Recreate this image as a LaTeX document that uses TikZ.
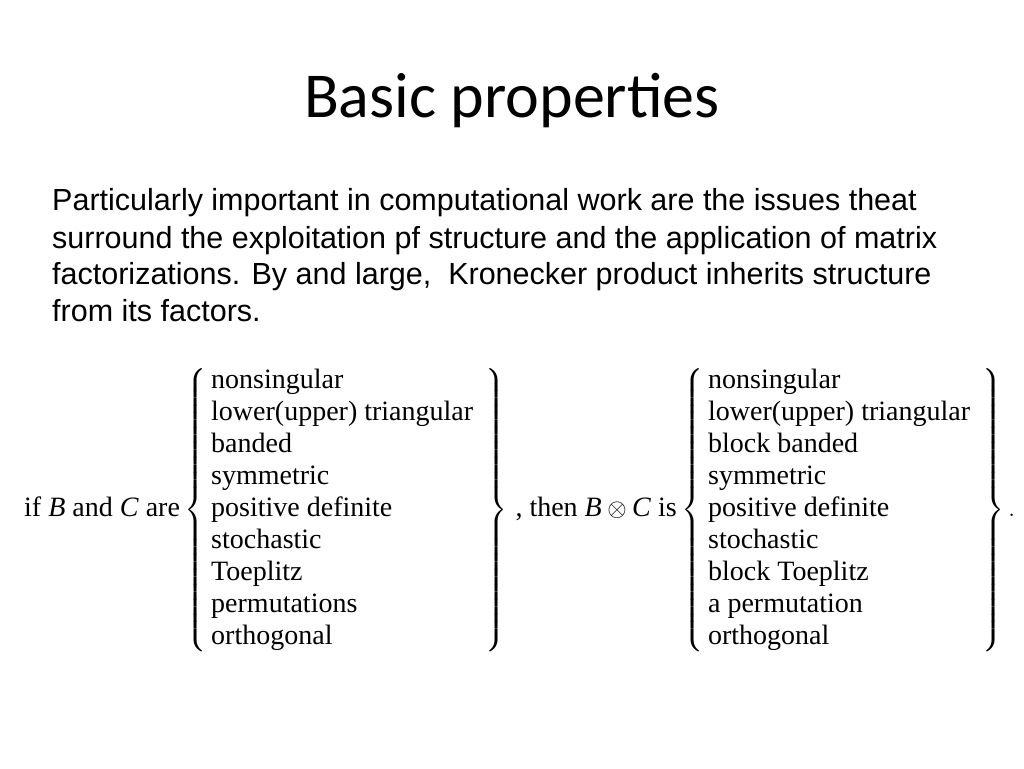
\documentclass[tikz,border=0pt]{standalone}
\usepackage{amsmath}
\usepackage{fontspec}
\setmainfont{Liberation Serif}
\newfontfamily\titlefont{Carlito}
\newfontfamily\bodyfont{Liberation Sans}
\begin{document}
\begin{tikzpicture}[x=1pt,y=-1pt,
  bodyline/.style={anchor=base west,inner sep=0pt,font=\bodyfont\fontsize{30.5}{32}\selectfont}]
\useasboundingbox (0,0) rectangle (1024,768);
\node[anchor=base,inner sep=0pt,font=\titlefont\fontsize{64}{66}\selectfont] (title) at (512,117) {Basic properties};
\node[bodyline] (l1) at (52,210) {Particularly important in computational work are the issues theat};
\node[bodyline] (l2) at (52,248) {surround the exploitation pf structure and the application of matrix};
\node[bodyline] (l3) at (52,284) {factorizations. By and large,\ \ Kronecker product inherits structure};
\node[bodyline] (l4) at (52,321) {from its factors.};
\node[anchor=west,inner sep=0pt,font=\fontsize{28}{32}\selectfont] (formula) at (24,510) {%
\renewcommand{\arraystretch}{1}%
$\text{if \textit{B} and \textit{C} are}
\left\{\begin{array}{l}
\text{nonsingular}\\ \text{lower(upper) triangular}\\ \text{banded}\\ \text{symmetric}\\
\text{positive definite}\\ \text{stochastic}\\ \text{Toeplitz}\\ \text{permutations}\\ \text{orthogonal}
\end{array}\;\right\}\,\text{, then \textit{B}}\otimes\text{\textit{C} is}
\left\{\begin{array}{l}
\text{nonsingular}\\ \text{lower(upper) triangular}\\ \text{block banded}\\ \text{symmetric}\\
\text{positive definite}\\ \text{stochastic}\\ \text{block Toeplitz}\\ \text{a permutation}\\ \text{orthogonal}
\end{array}\;\right\}.$};
\end{tikzpicture}
\end{document}
